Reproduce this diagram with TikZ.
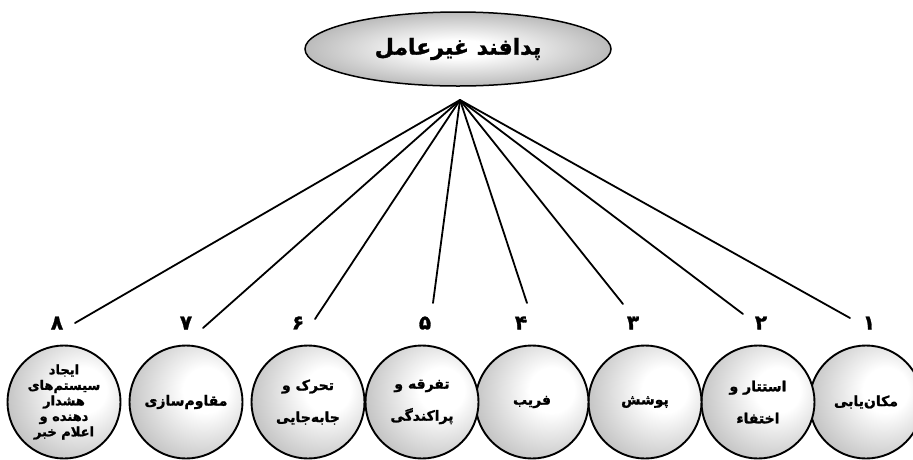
\documentclass[tikz,border=0pt]{standalone}
\usepackage{fontspec}
\usepackage{tikz}
\usetikzlibrary{shapes.geometric}
\TeXXeTstate=1
\newfontfamily\farsi[Script=Arabic,BoldFeatures={FakeBold=1.5}]{DejaVu Sans}
\newcommand{\fa}[1]{\beginR #1\endR}
\pgfdeclareradialshading{ballfill}{\pgfpoint{10bp}{6bp}}{color(0bp)=(white); color(10bp)=(white); color(55bp)=(black!48); color(80bp)=(black!48)}
\pgfdeclareradialshading{ovalfill}{\pgfpoint{0bp}{0bp}}{color(0bp)=(white); color(6bp)=(white); color(50bp)=(black!62)}
\tikzset{
  oval/.style={ellipse, draw, line width=1.5pt, shading=ovalfill, minimum width=306, minimum height=74, inner sep=0pt, font=\farsi\bfseries\fontsize{22}{26}\selectfont},
  ball/.style 2 args={circle, draw, line width=1.9pt, shading=ballfill, minimum size=113, inner sep=0pt, align=center, font=\farsi\bfseries\fontsize{#1}{#2}\selectfont},
  num/.style={font=\farsi\bfseries\fontsize{20}{24}\selectfont},
  spoke/.style={draw, line width=1.8pt, line cap=round},
}
\begin{document}
\begin{tikzpicture}[x=1pt,y=-1pt]
  \useasboundingbox (0,0) rectangle (913,459);
  \node[oval] (root) at (458,49) {\fa{پدافند غیرعامل}};
  \coordinate (hub) at (460,100);
  \foreach \i/\cx/\nx/\ex/\ey/\fs/\ls/\txt in {
      1/866/869/850/318/14/32/{\fa{مکان‌یابی}},
      2/758/761/743/314/14/32/{\fa{استتار و}\\\fa{اختفاء}},
      3/645/633/623/304/14/32/{\fa{پوشش}},
      4/532/521/527/303/14/32/{\fa{فریب}},
      5/422/425/433/303/14/32/{\fa{تفرقه و}\\\fa{پراکندگی}},
      6/308/298/315/319/14/32/{\fa{تحرک و}\\\fa{جابه‌جایی}},
      7/186/186/203/328/14/32/{\fa{مقاوم‌سازی}},
      8/64/57/75/323/13/15.5/{\fa{ایجاد}\\\fa{سیستم‌های}\\\fa{هشدار}\\\fa{دهنده و}\\\fa{اعلام خبر}}}
  {
    \node[ball={\fs}{\ls}] (c\i) at (\cx,402) {\txt};
    \node[num] (n\i) at (\nx,323) {\fa{\ifcase\i\or ۱\or ۲\or ۳\or ۴\or ۵\or ۶\or ۷\or ۸\fi}};
    \coordinate (e\i) at (\ex,\ey);
    \draw[spoke] (hub) -- (e\i);
  }
\end{tikzpicture}
\end{document}
